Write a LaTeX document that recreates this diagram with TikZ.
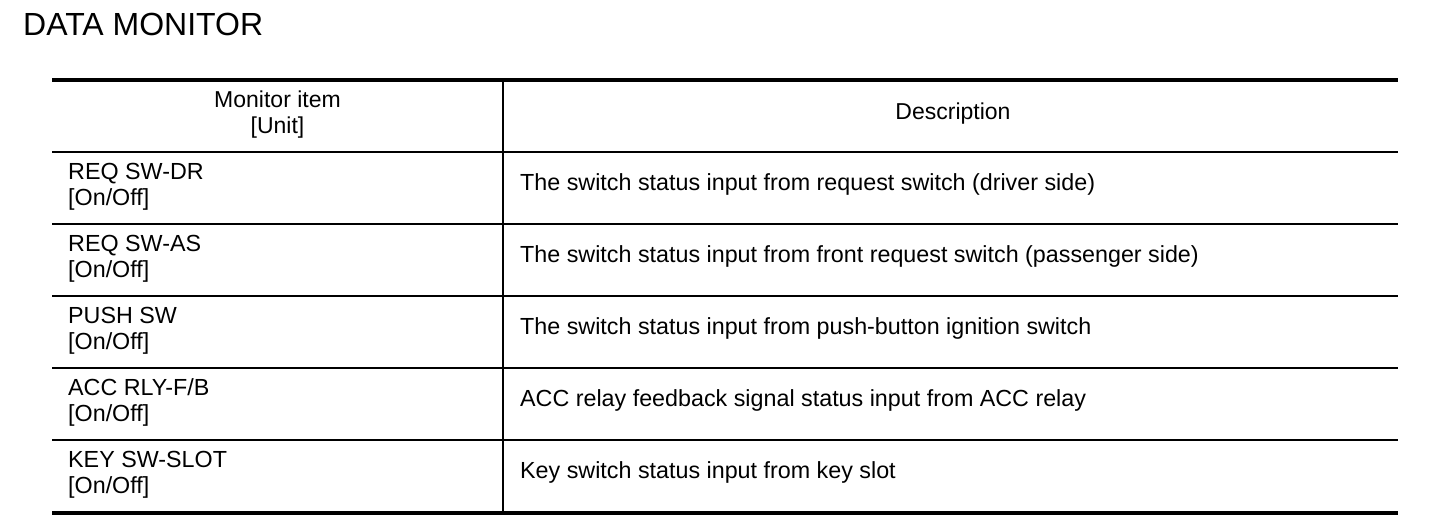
\documentclass[tikz,border=0pt]{standalone}
\usepackage{fontspec}
\setmainfont{Liberation Sans}
\usetikzlibrary{positioning}
\tikzset{
  rulethick/.style={draw=black, line width=3.6pt},
  rulethin/.style={draw=black, line width=1.7pt},
  titletext/.style={
    anchor=base west,
    inner sep=0pt,
    font=\fontsize{32}{36}\selectfont},
  itemtext/.style={
    anchor=base west,
    inner sep=0pt,
    font=\fontsize{23.3}{26}\selectfont},
  headtext/.style={
    anchor=base,
    inner sep=0pt,
    font=\fontsize{23}{26}\selectfont}
}

\begin{document}
\begin{tikzpicture}[x=1pt, y=-1pt]
    \useasboundingbox (0,0) rectangle (1440,524);
    \coordinate (TL) at (52,80);
    \coordinate (TR) at (1398,80);
    \coordinate (BL) at (52,513);
    \coordinate (BR) at (1398,513);
    \coordinate (DT) at (503,80);
    \coordinate (DB) at (503,513);

    \node[titletext] (title) at (23,36) {DATA MONITOR};

    % rules of the table
    \foreach \y in {152,224,296,368,440}
        \draw[rulethin] (52,\y) -- (1398,\y);
    \draw[rulethin] (DT) -- (DB);
    \draw[rulethick] (TL) -- (TR);
    \draw[rulethick] (BL) -- (BR);

    % header
    \node[headtext] (headitem) at (277.5,108) {Monitor item};
    \node[headtext] (headunit) at (277.5,134) {[Unit]};
    \node[headtext] (headdesc) at (953,120) {Description};

    % rows
    \node[itemtext] (item1) at (68,179) {REQ SW-DR};
    \node[itemtext] (unit1) at (68,205) {[On/Off]};
    \node[itemtext] (desc1) at (520,190) {The switch status input from request switch (driver side)};

    \node[itemtext] (item2) at (68,251) {REQ SW-AS};
    \node[itemtext] (unit2) at (68,277) {[On/Off]};
    \node[itemtext] (desc2) at (520,262) {The switch status input from front request switch (passenger side)};

    \node[itemtext] (item3) at (68,323) {PUSH SW};
    \node[itemtext] (unit3) at (68,349) {[On/Off]};
    \node[itemtext] (desc3) at (520,334) {The switch status input from push-button ignition switch};

    \node[itemtext] (item4) at (68,395) {ACC RLY-F/B};
    \node[itemtext] (unit4) at (68,421) {[On/Off]};
    \node[itemtext] (desc4) at (520,406) {ACC relay feedback signal status input from ACC relay};

    \node[itemtext] (item5) at (68,467) {KEY SW-SLOT};
    \node[itemtext] (unit5) at (68,493) {[On/Off]};
    \node[itemtext] (desc5) at (520,478) {Key switch status input from key slot};
\end{tikzpicture}
\end{document}
